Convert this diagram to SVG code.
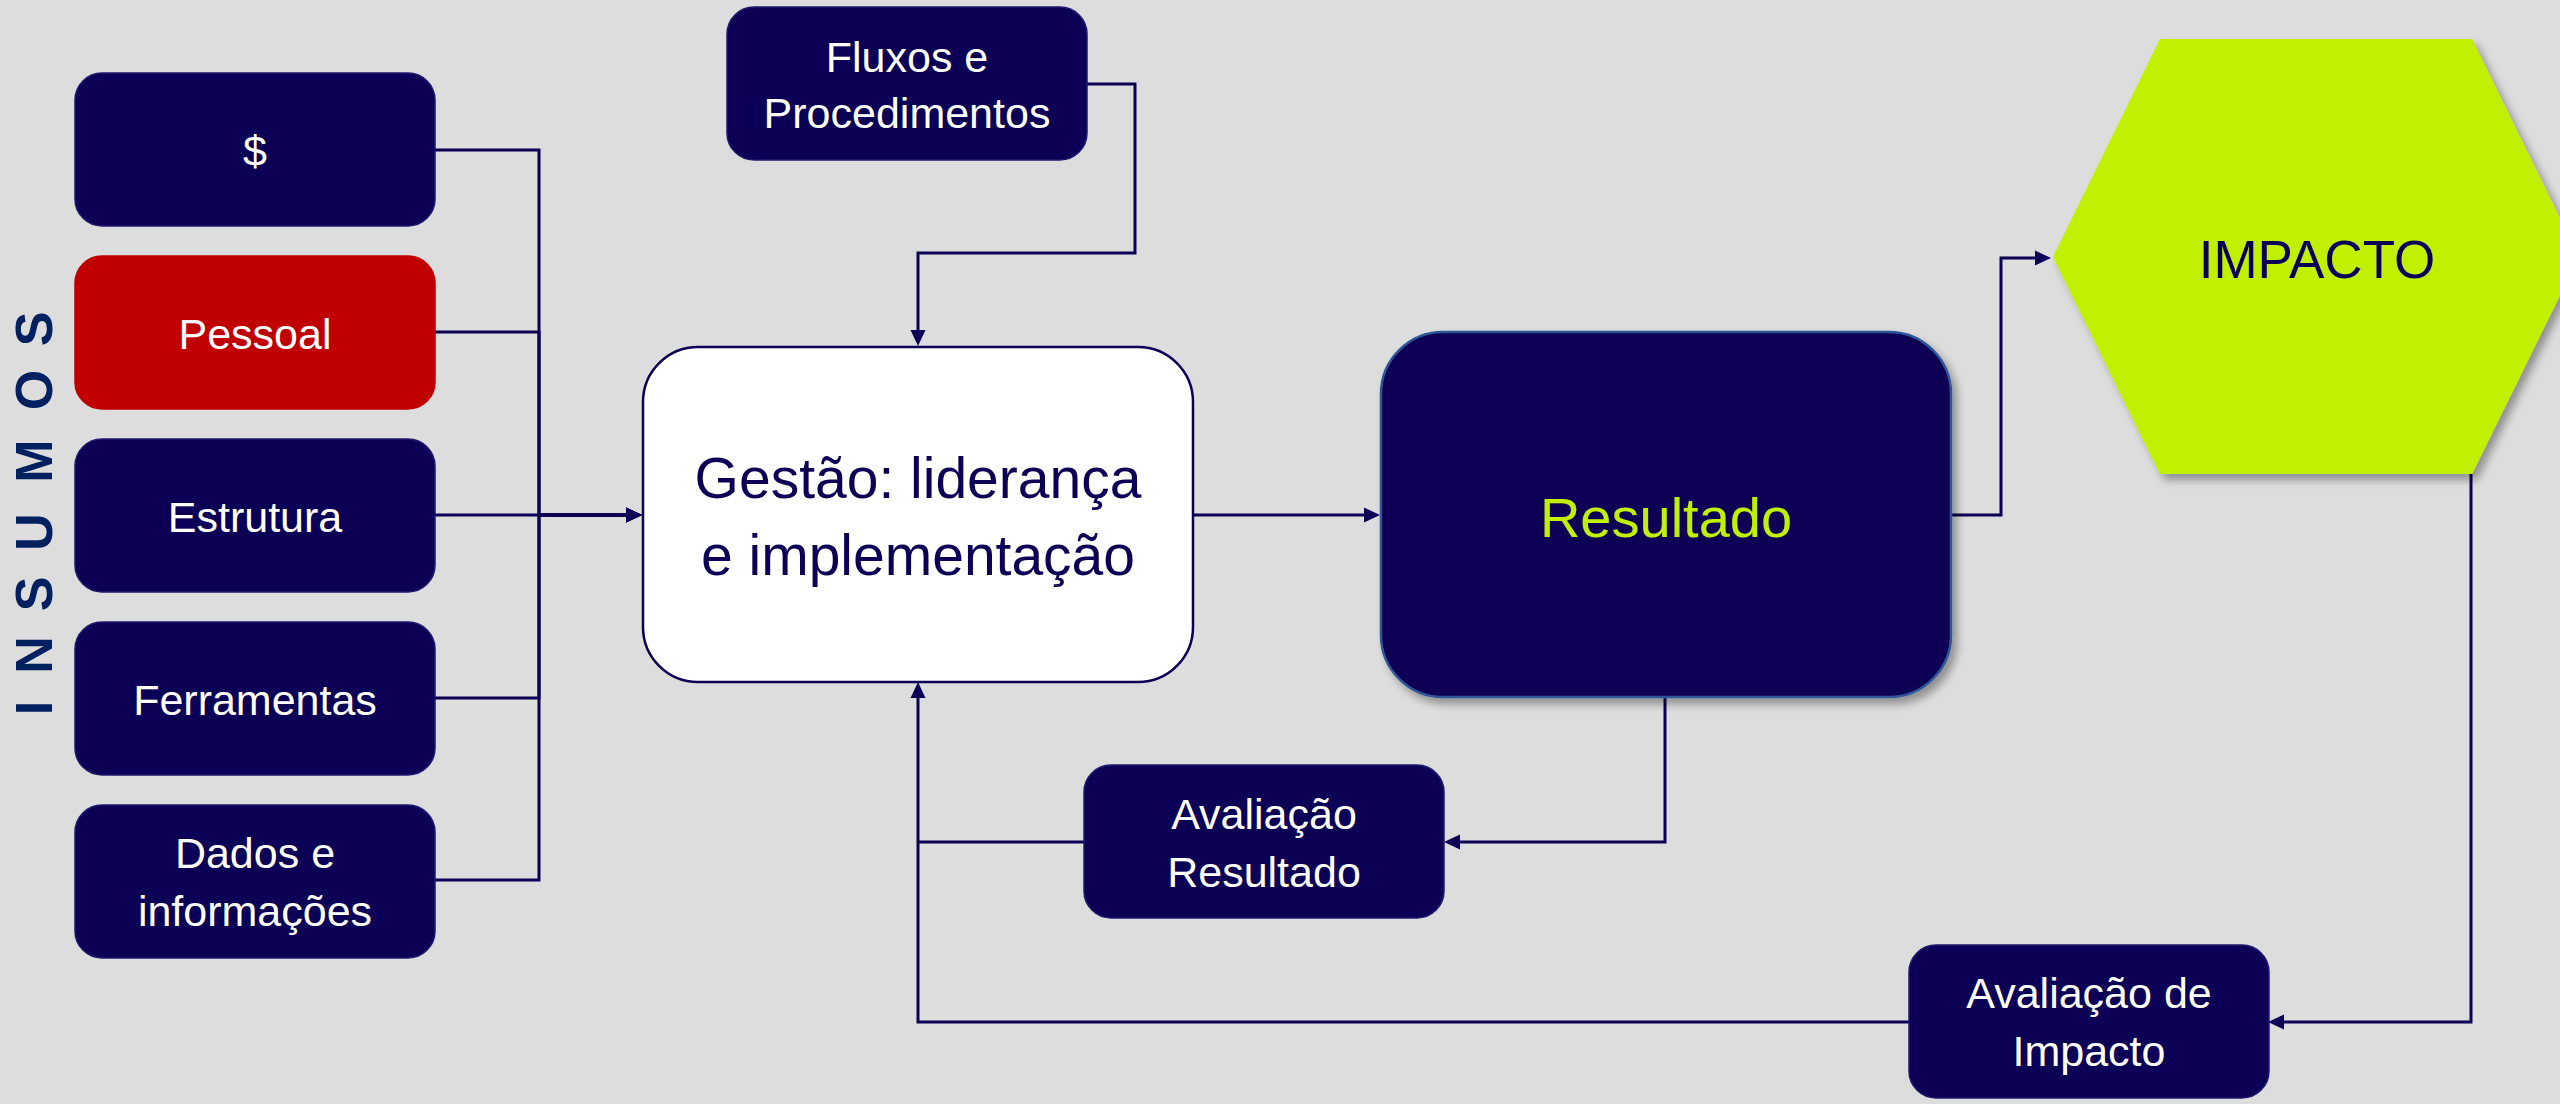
<svg xmlns="http://www.w3.org/2000/svg" width="2560" height="1104" viewBox="0 0 2560 1104">
  <style>
    .box { fill: #0B0055; stroke: #1F1A6E; stroke-width: 1.5; }
    .red { fill: #C00000; stroke: #C00000; }
    .lbl { font-family: "Liberation Sans", Arial, sans-serif; font-size: 43px; fill: #FFFFFF; text-anchor: middle; }
    .conn { fill: none; stroke: #0B0055; stroke-width: 3; }
    .arrow { marker-end: url(#ah); }
  </style>
  <defs>
    <marker id="ah" viewBox="0 0 16 16" refX="6" refY="8" markerWidth="16" markerHeight="16" markerUnits="userSpaceOnUse" orient="auto">
      <path d="M0,0.5 L16,8 L0,15.5 z" fill="#0B0055"/>
    </marker>
    <filter id="shadow" x="-10%" y="-10%" width="125%" height="125%">
      <feDropShadow dx="5" dy="6" stdDeviation="4" flood-color="#000000" flood-opacity="0.35"/>
    </filter>
  </defs>

  <rect x="0" y="0" width="2560" height="1104" fill="#DDDDDD"/>

  <!-- INSUMOS vertical label -->
  <text id="insumos" transform="translate(52,0) rotate(-90)" font-family="'Liberation Sans', Arial, sans-serif" font-size="52" font-weight="bold" fill="#002060" text-anchor="middle"><tspan x="-708">I</tspan><tspan x="-655">N</tspan><tspan x="-594">S</tspan><tspan x="-532">U</tspan><tspan x="-461">M</tspan><tspan x="-390">O</tspan><tspan x="-329">S</tspan></text>

  <!-- Connectors -->
  <g id="connectors">
    <path class="conn arrow" d="M435,150 H539 V515 H632"/>
    <path class="conn arrow" d="M435,332 H539 V515 H632"/>
    <path class="conn arrow" d="M435,515 H632"/>
    <path class="conn arrow" d="M435,698 H539 V515 H632"/>
    <path class="conn arrow" d="M435,880 H539 V515 H632"/>
    <path class="conn arrow" d="M1087,84 H1135 V253 H918 V336"/>
    <path class="conn arrow" d="M1193,515 H1370"/>
    <path class="conn arrow" d="M1951,515 H2001 V258 H2041"/>
    <path class="conn arrow" d="M2471,474 V1022 H2278"/>
    <path class="conn arrow" d="M1665,697 V842 H1454"/>
    <path class="conn" d="M1084,842 H918"/>
    <path class="conn arrow" d="M1909,1022 H918 V692"/>
  </g>

  <!-- Input nodes -->
  <g id="node-dinheiro">
    <rect class="box" x="75" y="73" width="360" height="153" rx="27"/>
    <text class="lbl" x="255" y="166">$</text>
  </g>
  <g id="node-pessoal">
    <rect class="box red" x="75" y="256" width="360" height="153" rx="27"/>
    <text class="lbl" x="255" y="349">Pessoal</text>
  </g>
  <g id="node-estrutura">
    <rect class="box" x="75" y="439" width="360" height="153" rx="27"/>
    <text class="lbl" x="255" y="532">Estrutura</text>
  </g>
  <g id="node-ferramentas">
    <rect class="box" x="75" y="622" width="360" height="153" rx="27"/>
    <text class="lbl" x="255" y="715">Ferramentas</text>
  </g>
  <g id="node-dados">
    <rect class="box" x="75" y="805" width="360" height="153" rx="27"/>
    <text class="lbl" x="255" y="868">Dados e</text>
    <text class="lbl" x="255" y="926">informações</text>
  </g>

  <g id="node-fluxos">
    <rect class="box" x="727" y="7" width="360" height="153" rx="27"/>
    <text class="lbl" x="907" y="72">Fluxos e</text>
    <text class="lbl" x="907" y="128">Procedimentos</text>
  </g>

  <g id="node-gestao">
    <rect x="643" y="347" width="550" height="335" rx="55" fill="#FFFFFF" stroke="#0B0055" stroke-width="2.5"/>
    <text x="918" y="498" font-family="'Liberation Sans', Arial, sans-serif" font-size="57" fill="#0B0055" text-anchor="middle">Gestão: liderança</text>
    <text x="918" y="575" font-family="'Liberation Sans', Arial, sans-serif" font-size="57" fill="#0B0055" text-anchor="middle">e implementação</text>
  </g>

  <g id="node-resultado">
    <rect x="1381" y="332" width="570" height="365" rx="62" fill="#0B0055" stroke="#2F5597" stroke-width="2.5" filter="url(#shadow)"/>
    <text x="1666" y="537" font-family="'Liberation Sans', Arial, sans-serif" font-size="56" fill="#C1F000" text-anchor="middle">Resultado</text>
  </g>

  <g id="node-impacto">
    <polygon points="2053,257 2160,39 2472,39 2579,257 2472,474 2160,474" fill="#C1F000" filter="url(#shadow)"/>
    <text x="2317" y="278" font-family="'Liberation Sans', Arial, sans-serif" font-size="53" fill="#0B0055" text-anchor="middle">IMPACTO</text>
  </g>

  <g id="node-avaliacao-resultado">
    <rect class="box" x="1084" y="765" width="360" height="153" rx="27"/>
    <text class="lbl" x="1264" y="829">Avaliação</text>
    <text class="lbl" x="1264" y="887">Resultado</text>
  </g>

  <g id="node-avaliacao-impacto">
    <rect class="box" x="1909" y="945" width="360" height="153" rx="27"/>
    <text class="lbl" x="2089" y="1008">Avaliação de</text>
    <text class="lbl" x="2089" y="1066">Impacto</text>
  </g>
</svg>
